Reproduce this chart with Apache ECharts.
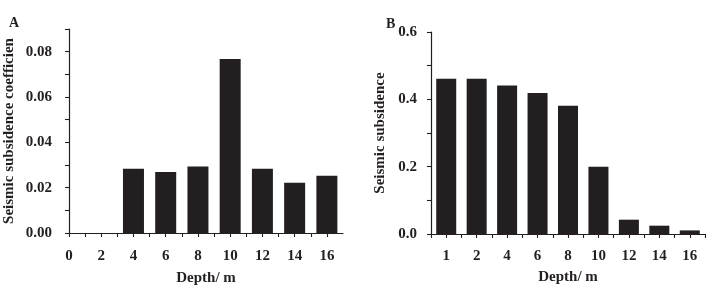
<!DOCTYPE html>
<html>
<head>
<meta charset="utf-8">
<style>
  html, body { margin: 0; padding: 0; background: #fff; }
  #chart { width: 725px; height: 293px; }
</style>
<script src="https://cdn.jsdelivr.net/npm/echarts@6/dist/echarts.min.js"></script>
</head>
<body>
<div id="chart"></div>
<script>
// panel A: depth (m) vs seismic subsidence coefficient
const depthA = [0, 2, 4, 6, 8, 10, 12, 14, 16];
const coefA = [0, 0, 0.0283, 0.0269, 0.0293, 0.0768, 0.0283, 0.0222, 0.0253];

// panel B: depth (m) vs seismic subsidence
const depthB = ['1', '2', '4', '6', '8', '10', '12', '14', '16'];
const subsB = [0.461, 0.461, 0.441, 0.419, 0.381, 0.2, 0.0425, 0.0247, 0.0107];

const ink = '#231f20';
const font = 'Liberation Serif';

const chart = echarts.init(document.getElementById('chart'));

const axisLine = { show: true, lineStyle: { color: ink, width: 1.2 } };
const tick = { show: true, inside: false, length: 4, lineStyle: { color: ink, width: 1.1 } };
const labelStyle = { color: ink, fontFamily: font, fontWeight: 'bold', fontSize: 15 };

const option = {
  animation: false,
  title: [
    { text: 'A', left: 4, top: 11, textStyle: { color: ink, fontFamily: font, fontWeight: 'bold', fontSize: 14 } },
    { text: 'B', left: 381, top: 12, textStyle: { color: ink, fontFamily: font, fontWeight: 'bold', fontSize: 14 } }
  ],
  grid: [
    { left: 69, top: 29, width: 274, height: 204 },
    { left: 431, top: 32, width: 274, height: 202 }
  ],
  xAxis: [
    {
      gridIndex: 0,
      type: 'value',
      min: 0,
      max: 17,
      interval: 1,
      position: 'bottom',
      splitLine: { show: false },
      axisLine: axisLine,
      axisTick: tick,
      axisLabel: Object.assign({}, labelStyle, {
        margin: 16,
        showMaxLabel: false,
        formatter: v => (Math.round(v) % 2 === 0 ? String(v) : '')
      }),
      name: 'Depth/ m',
      nameLocation: 'middle',
      nameGap: 38,
      nameTextStyle: labelStyle
    },
    {
      gridIndex: 1,
      type: 'category',
      data: depthB,
      position: 'bottom',
      axisLine: axisLine,
      axisTick: tick,
      axisLabel: Object.assign({}, labelStyle, { margin: 15 }),
      name: 'Depth/ m',
      nameLocation: 'middle',
      nameGap: 36,
      nameTextStyle: labelStyle
    },
    {
      // extra ticks at the bar centres
      gridIndex: 1,
      type: 'category',
      data: depthB,
      position: 'bottom',
      axisLine: { show: false },
      axisTick: Object.assign({}, tick, { alignWithLabel: true }),
      axisLabel: { show: false }
    }
  ],
  yAxis: [
    {
      gridIndex: 0,
      type: 'value',
      min: 0,
      max: 0.09,
      interval: 0.01,
      splitLine: { show: false },
      axisLine: axisLine,
      axisTick: tick,
      axisLabel: Object.assign({}, labelStyle, {
        margin: 17,
        formatter: v => (Math.round(v * 100) % 2 === 0 ? v.toFixed(2) : '')
      }),
      name: 'Seismic subsidence coefficien',
      nameLocation: 'middle',
      nameRotate: 90,
      nameGap: 52,
      nameTextStyle: labelStyle
    },
    {
      gridIndex: 1,
      type: 'value',
      min: 0,
      max: 0.6,
      interval: 0.1,
      splitLine: { show: false },
      axisLine: axisLine,
      axisTick: tick,
      axisLabel: Object.assign({}, labelStyle, {
        margin: 14,
        formatter: v => (Math.round(v * 10) % 2 === 0 ? v.toFixed(1) : '')
      }),
      name: 'Seismic subsidence',
      nameLocation: 'middle',
      nameRotate: 90,
      nameGap: 43,
      nameTextStyle: labelStyle
    }
  ],
  series: [
    {
      type: 'bar',
      xAxisIndex: 0,
      yAxisIndex: 0,
      barWidth: 21,
      itemStyle: { color: ink },
      data: depthA.map((d, i) => [d, coefA[i]])
    },
    {
      type: 'bar',
      xAxisIndex: 1,
      yAxisIndex: 1,
      barWidth: 20,
      itemStyle: { color: ink },
      data: subsB
    }
  ]
};

chart.setOption(option);
</script>
</body>
</html>
